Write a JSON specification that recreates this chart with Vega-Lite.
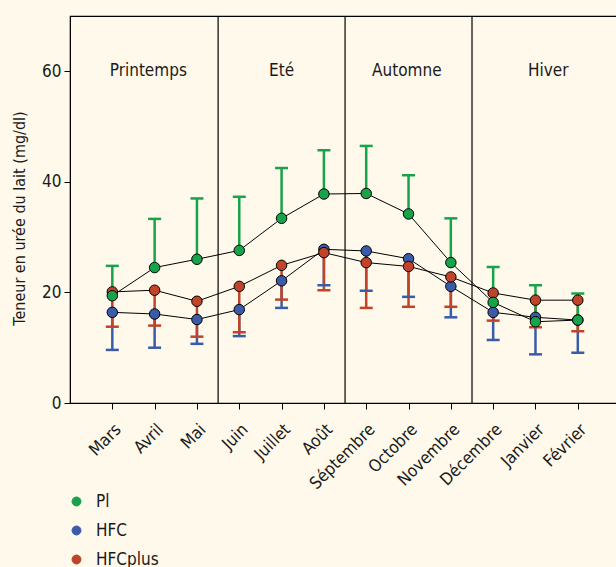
{
  "$schema": "https://vega.github.io/schema/vega-lite/v6.json",
  "width": 548,
  "height": 387,
  "autosize": "none",
  "padding": {"left": 70, "top": 16, "right": 0, "bottom": 164},
  "background": "#fef9ea",
  "config": {
    "font": "Liberation Sans Narrow, DejaVu Sans Condensed, sans-serif",
    "view": {"stroke": "black", "strokeWidth": 1.2, "fill": "#fef9ea"}
  },
  "datasets": {
    "mesures": [
      {"m": 1, "groupe": "HFC", "v": 16.4, "lo": 9.6, "hi": 16.4, "cap": 9.6},
      {"m": 2, "groupe": "HFC", "v": 16.1, "lo": 10.0, "hi": 16.1, "cap": 10.0},
      {"m": 3, "groupe": "HFC", "v": 15.1, "lo": 10.7, "hi": 15.1, "cap": 10.7},
      {"m": 4, "groupe": "HFC", "v": 16.9, "lo": 12.1, "hi": 16.9, "cap": 12.1},
      {"m": 5, "groupe": "HFC", "v": 22.1, "lo": 17.2, "hi": 22.1, "cap": 17.2},
      {"m": 6, "groupe": "HFC", "v": 27.8, "lo": 21.3, "hi": 27.8, "cap": 21.3},
      {"m": 7, "groupe": "HFC", "v": 27.5, "lo": 20.3, "hi": 27.5, "cap": 20.3},
      {"m": 8, "groupe": "HFC", "v": 26.1, "lo": 19.2, "hi": 26.1, "cap": 19.2},
      {"m": 9, "groupe": "HFC", "v": 21.1, "lo": 15.5, "hi": 21.1, "cap": 15.5},
      {"m": 10, "groupe": "HFC", "v": 16.4, "lo": 11.4, "hi": 16.4, "cap": 11.4},
      {"m": 11, "groupe": "HFC", "v": 15.5, "lo": 8.8, "hi": 15.5, "cap": 8.8},
      {"m": 12, "groupe": "HFC", "v": 15.0, "lo": 9.1, "hi": 15.0, "cap": 9.1},
      {"m": 1, "groupe": "HFCplus", "v": 20.1, "lo": 13.8, "hi": 20.1, "cap": 13.8},
      {"m": 2, "groupe": "HFCplus", "v": 20.4, "lo": 14.0, "hi": 20.4, "cap": 14.0},
      {"m": 3, "groupe": "HFCplus", "v": 18.4, "lo": 12.0, "hi": 18.4, "cap": 12.0},
      {"m": 4, "groupe": "HFCplus", "v": 21.1, "lo": 12.8, "hi": 21.1, "cap": 12.8},
      {"m": 5, "groupe": "HFCplus", "v": 24.9, "lo": 18.7, "hi": 24.9, "cap": 18.7},
      {"m": 6, "groupe": "HFCplus", "v": 27.2, "lo": 20.4, "hi": 27.2, "cap": 20.4},
      {"m": 7, "groupe": "HFCplus", "v": 25.4, "lo": 17.2, "hi": 25.4, "cap": 17.2},
      {"m": 8, "groupe": "HFCplus", "v": 24.7, "lo": 17.4, "hi": 24.7, "cap": 17.4},
      {"m": 9, "groupe": "HFCplus", "v": 22.8, "lo": 17.4, "hi": 22.8, "cap": 17.4},
      {"m": 10, "groupe": "HFCplus", "v": 19.9, "lo": 14.9, "hi": 19.9, "cap": 14.9},
      {"m": 11, "groupe": "HFCplus", "v": 18.6, "lo": 13.7, "hi": 18.6, "cap": 13.7},
      {"m": 12, "groupe": "HFCplus", "v": 18.6, "lo": 13.0, "hi": 18.6, "cap": 13.0},
      {"m": 1, "groupe": "Pl", "v": 19.4, "lo": 19.4, "hi": 24.8, "cap": 24.8},
      {"m": 2, "groupe": "Pl", "v": 24.5, "lo": 24.5, "hi": 33.3, "cap": 33.3},
      {"m": 3, "groupe": "Pl", "v": 26.0, "lo": 26.0, "hi": 37.0, "cap": 37.0},
      {"m": 4, "groupe": "Pl", "v": 27.6, "lo": 27.6, "hi": 37.3, "cap": 37.3},
      {"m": 5, "groupe": "Pl", "v": 33.4, "lo": 33.4, "hi": 42.5, "cap": 42.5},
      {"m": 6, "groupe": "Pl", "v": 37.8, "lo": 37.8, "hi": 45.7, "cap": 45.7},
      {"m": 7, "groupe": "Pl", "v": 37.9, "lo": 37.9, "hi": 46.5, "cap": 46.5},
      {"m": 8, "groupe": "Pl", "v": 34.2, "lo": 34.2, "hi": 41.2, "cap": 41.2},
      {"m": 9, "groupe": "Pl", "v": 25.4, "lo": 25.4, "hi": 33.4, "cap": 33.4},
      {"m": 10, "groupe": "Pl", "v": 18.2, "lo": 18.2, "hi": 24.6, "cap": 24.6},
      {"m": 11, "groupe": "Pl", "v": 14.7, "lo": 14.7, "hi": 21.3, "cap": 21.3},
      {"m": 12, "groupe": "Pl", "v": 15.0, "lo": 15.0, "hi": 19.8, "cap": 19.8}
    ],
    "saisons": [
      {"pos": 1.85, "sep": 3.5, "saison": "Printemps"},
      {"pos": 5.0, "sep": 6.5, "saison": "Eté"},
      {"pos": 7.96, "sep": 9.5, "saison": "Automne"},
      {"pos": 11.3, "sep": null, "saison": "Hiver"}
    ]
  },
  "layer": [
    {
      "data": {"name": "saisons"},
      "transform": [{"filter": "datum.sep != null"}],
      "mark": {"type": "rule", "color": "black", "strokeWidth": 1.2},
      "encoding": {
        "x": {"field": "sep", "type": "quantitative", "scale": {"domain": [0, 12.95], "nice": false}}
      }
    },
    {
      "data": {"name": "saisons"},
      "mark": {"type": "text", "fontSize": 17, "color": "#1a1a1a", "baseline": "middle"},
      "encoding": {
        "x": {"field": "pos", "type": "quantitative"},
        "y": {"datum": 60},
        "text": {"field": "saison"}
      }
    },
    {
      "data": {"name": "mesures"},
      "mark": {"type": "rule", "strokeWidth": 2.5},
      "encoding": {
        "x": {"field": "m", "type": "quantitative"},
        "y": {"field": "lo", "type": "quantitative"},
        "y2": {"field": "hi"},
        "color": {"field": "groupe", "type": "nominal"}
      }
    },
    {
      "data": {"name": "mesures"},
      "mark": {"type": "tick", "orient": "horizontal", "size": 13, "thickness": 2.5, "opacity": 1},
      "encoding": {
        "x": {"field": "m", "type": "quantitative"},
        "y": {"field": "cap", "type": "quantitative"},
        "color": {"field": "groupe", "type": "nominal"}
      }
    },
    {
      "data": {"name": "mesures"},
      "mark": {"type": "line", "color": "black", "strokeWidth": 1},
      "encoding": {
        "x": {"field": "m", "type": "quantitative"},
        "y": {"field": "v", "type": "quantitative"},
        "detail": {"field": "groupe"}
      }
    },
    {
      "data": {"name": "mesures"},
      "mark": {"type": "point", "filled": true, "size": 110, "stroke": "black", "strokeWidth": 1, "opacity": 1},
      "encoding": {
        "x": {
          "field": "m", "type": "quantitative", "title": null,
          "scale": {"domain": [0, 12.95], "nice": false},
          "axis": {
            "values": [1, 2, 3, 4, 5, 6, 7, 8, 9, 10, 11, 12],
            "labelExpr": "['Mars','Avril','Mai','Juin','Juillet','Août','Séptembre','Octobre','Novembre','Décembre','Janvier','Février'][datum.value - 1]",
            "labelAngle": -45, "labelAlign": "right", "labelBaseline": "top", "labelOverlap": false,
            "labelFontSize": 17, "labelColor": "#1a1a1a", "labelPadding": 12, "labelDx": 2,
            "domainColor": "black", "tickColor": "black", "tickSize": 6, "grid": false
          }
        },
        "y": {
          "field": "v", "type": "quantitative",
          "title": "Teneur en urée du lait (mg/dl)",
          "scale": {"domain": [0, 70], "nice": false},
          "axis": {
            "values": [0, 20, 40, 60], "grid": false,
            "labelFontSize": 17, "labelColor": "#1a1a1a", "labelPadding": 3,
            "titleFontSize": 16, "titleFontWeight": "normal", "titleColor": "#1a1a1a", "titlePadding": 14, "titleY": 202,
            "domainColor": "black", "tickColor": "black", "tickSize": 6
          }
        },
        "color": {
          "field": "groupe", "type": "nominal",
          "scale": {"domain": ["Pl", "HFC", "HFCplus"], "range": ["#17a34a", "#3a5ca8", "#c0432a"]},
          "legend": {
            "title": null, "orient": "none", "legendX": -2, "legendY": 477,
            "symbolType": "circle", "symbolSize": 80, "symbolStrokeColor": "black", "symbolStrokeWidth": 1, "symbolOpacity": 1,
            "labelFontSize": 17, "labelColor": "#1a1a1a", "labelOffset": 11, "rowPadding": 11
          }
        }
      }
    }
  ]
}
